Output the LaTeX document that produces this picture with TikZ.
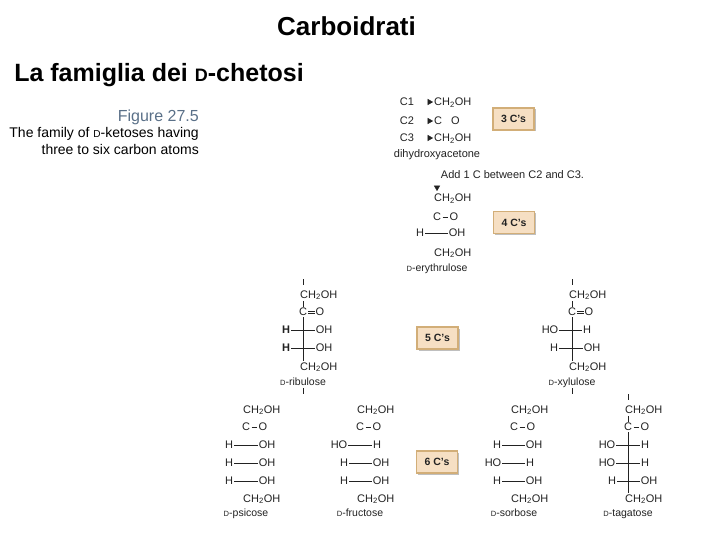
\documentclass[tikz,border=0pt]{standalone}
\usepackage{fontspec}
\setmainfont{Liberation Sans}
\usetikzlibrary{positioning,arrows,shadows}
\definecolor{inkgrey}{HTML}{222222}
\definecolor{figblue}{HTML}{5A7088}
\definecolor{boxfill}{HTML}{F6DFC3}
\definecolor{boxedge}{HTML}{D2AE78}
\newcommand{\chtwo}{CH\textsubscript{2}OH}
\newcommand{\dcap}{\scalebox{.72}{D}}
\tikzset{
  chem/.style={inner sep=1pt,text=inkgrey,font=\fontsize{11}{13}\selectfont},
  chemname/.style={chem,anchor=base,font=\fontsize{10.5}{12}\selectfont},
  bond/.style={inkgrey,line width=.6pt},
  tip/.style={-triangle 60,inkgrey,line width=.4pt},
  countbox/.style={rectangle,draw=boxedge,line width=1.5pt,fill=boxfill,minimum width=41pt,minimum height=22pt,inner sep=0pt,
    font=\bfseries\fontsize{10.5}{12}\selectfont,text=inkgrey,
    drop shadow={shadow xshift=1.5pt,shadow yshift=-1.5pt,fill=black,opacity=.25}},
  headline/.style={inner sep=0pt,font=\bfseries\fontsize{#1}{#1}\selectfont},
  caption/.style={inner sep=0pt,anchor=base east,font=\fontsize{#1}{#1}\selectfont}
}
\begin{document}
\begin{tikzpicture}[x=1pt,y=-1pt]
\useasboundingbox (0,0) rectangle (720,540);
\node at (346.5,26) [headline=26] (title) {Carboidrati};
\node at (159,75) [headline=25] (subtitle) {La famiglia dei \dcap-chetosi};
\node at (199,121.5) [caption=16,text=figblue] (figno) {Figure 27.5};
\node at (199,138) [caption=14] (capa) {The family of \dcap-ketoses having};
\node at (199,155) [caption=14] (capb) {three to six carbon atoms};
% three carbons
\foreach \r/\y/\txt in {1/102/\chtwo,2/121/C\hspace{9pt}O,3/138/\chtwo} {
  \node at (407,\y) [chem] (dlab\r) {C\r};
  \node at (433,\y+4) [chem,anchor=base west] (dhy\r) {\txt};
  \coordinate (dtail\r) at (428,\y);
  \draw [tip] (dtail\r) -- (dhy\r.west |- dtail\r);
}
\node at (437,157.5) [chemname,font=\fontsize{11}{13}\selectfont] (dname) {dihydroxyacetone};
\node at (512.5,178.5) [chemname,font=\fontsize{11}{13}\selectfont] (addc) {Add 1 C between C2 and C3.};
\coordinate (addtop) at (437,186);
\coordinate (addend) at (437,191);
\draw [tip] (addtop) -- (addend);
% name/carbon x/y top/y carbonyl/y end/y name/label
\foreach \n/\x/\yt/\yc/\ye/\yn/\lbl in {
  ery/437/198/217/252/271/erythrulose,
  rib/303/294/312/366/385/ribulose,
  xyl/572/294/312/366/385/xylulose,
  psi/246/409/427/498/516.5/psicose,
  fru/360/409/427/498/516.5/fructose,
  sor/514/409/427/498/516.5/sorbose,
  tag/628/409/427/498/516.5/tagatose} {
  \node at (\x-4,\yt+4) [chem,anchor=base west] (\n-top) {\chtwo};
  \node at (\x,\yc) [chem] (\n-c) {C};
  \node at (\x+17,\yc) [chem] (\n-o) {O};
  \node at (\x-4,\ye+4) [chem,anchor=base west] (\n-end) {\chtwo};
  \node at (\x,\yn) [chemname] (\n-name) {\dcap-\lbl};
}
\foreach \n in {ery,psi,fru,sor,tag}
  \draw [bond,shorten <=.4pt,shorten >=.4pt] (\n-c) -- (\n-o);
\foreach \n in {rib,xyl} {
  \draw [bond] ([yshift=1.1pt]\n-c.east) -- ([yshift=1.1pt]\n-o.west);
  \draw [bond] ([yshift=-1.1pt]\n-c.east) -- ([yshift=-1.1pt]\n-o.west);
}
% hydroxyl rows
\foreach \n/\r/\y/\lx/\lt/\rx/\rt in {
  ery/1/233/420/H/457/OH,
  rib/1/330/286/\textbf{H}/324/OH,
  rib/2/348/286/\textbf{H}/324/OH,
  xyl/1/330/550/HO/587/H,
  xyl/2/348/554/H/592/OH,
  psi/1/445/229/H/267/OH,
  psi/2/463/229/H/267/OH,
  psi/3/481/229/H/267/OH,
  fru/1/445/339/HO/377/H,
  fru/2/463/344/H/381/OH,
  fru/3/481/344/H/381/OH,
  sor/1/445/497/H/534/OH,
  sor/2/463/493/HO/530/H,
  sor/3/481/497/H/534/OH,
  tag/1/445/607/HO/645/H,
  tag/2/463/607/HO/645/H,
  tag/3/481/612/H/649/OH} {
  \node at (\lx,\y) [chem] (\n-l\r) {\lt};
  \node at (\rx,\y) [chem] (\n-r\r) {\rt};
  \draw [bond] (\n-l\r) -- (\n-r\r);
}
% backbones
\foreach \n in {rib,xyl,tag} {
  \draw [bond] (\n-c |- \n-top.south) -- (\n-c);
  \draw [bond] (\n-c) -- (\n-c |- \n-end.north);
}
% stubs
\foreach \s/\x/\ya/\yb in {ribup/303/279/285,ribdn/303/388/394,xylup/572/279/285,xyldn/572/388/394,tagup/628/394/400} {
  \coordinate (\s-a) at (\x,\ya);
  \coordinate (\s-b) at (\x,\yb);
  \draw [bond] (\s-a) -- (\s-b);
}
\node at (513.5,119) [countbox] (three) {3 C's};
\node at (514,222.5) [countbox] (four) {4 C's};
\node at (437.5,338) [countbox] (five) {5 C's};
\node at (437,462) [countbox] (six) {6 C's};
\end{tikzpicture}
\end{document}
